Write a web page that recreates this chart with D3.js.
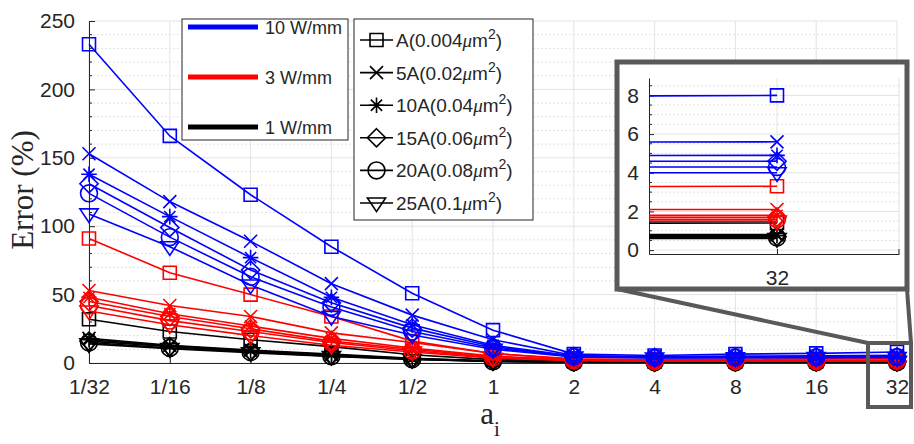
<!DOCTYPE html>
<html>
<head>
<meta charset="utf-8">
<script src="https://cdn.jsdelivr.net/npm/d3@7"></script>
<style>
  body { margin: 0; background: #fff; }
  text { font-family: "Liberation Sans", Arial, sans-serif; fill: #262626; }
  .serif { font-family: "Liberation Serif", "Times New Roman", serif; }
</style>
</head>
<body>
<div id="chart"></div>
<script>
// x categories (a_i)
var xLabels = ["1/32", "1/16", "1/8", "1/4", "1/2", "1", "2", "4", "8", "16", "32"];

// areas, one per marker
var areaMult = ["A", "5A", "10A", "15A", "20A", "25A"];
var areaSize = ["0.004", "0.02", "0.04", "0.06", "0.08", "0.1"];
var markerTypes = ["square", "x", "asterisk", "diamond", "circle", "triangle"];

// error (%) for each area at each a_i, per power density
var err10W = [
  [233, 166, 123, 85, 51, 24, 6.5, 5.5, 6.5, 7.0, 8.0],
  [153, 118, 89, 58, 35, 17, 5.5, 4.5, 5.0, 5.2, 5.6],
  [138, 107, 77, 48, 28, 13, 5.0, 4.2, 4.5, 4.7, 4.9],
  [131, 99, 68, 44, 25.5, 12, 4.8, 4.0, 4.3, 4.4, 4.6],
  [124, 92, 63, 41, 23, 11, 4.6, 3.8, 4.1, 4.2, 4.3],
  [109, 85, 57, 34, 20.5, 10, 4.4, 3.6, 3.8, 3.9, 4.0]
];
var err3W = [
  [91, 66, 50, 34, 16, 7, 3.0, 2.5, 2.8, 3.0, 3.3],
  [53, 42, 34, 22, 15, 7, 2.5, 1.8, 1.9, 2.0, 2.1],
  [48, 36, 27, 18, 11, 5, 2.2, 1.6, 1.7, 1.75, 1.8],
  [45, 34, 25, 16, 10, 4.5, 2.1, 1.5, 1.6, 1.65, 1.7],
  [42, 31, 23, 15, 9, 4, 2.0, 1.4, 1.5, 1.55, 1.6],
  [38, 28, 20, 13, 8, 3.5, 1.9, 1.3, 1.4, 1.45, 1.5]
];
var err1W = [
  [32, 23, 17, 12, 6, 2.5, 1.5, 1.2, 1.3, 1.35, 1.4],
  [18, 13, 9.5, 6.5, 3.5, 1.5, 0.9, 0.7, 0.75, 0.8, 0.8],
  [17, 12.5, 9, 6, 3.3, 1.4, 0.85, 0.65, 0.7, 0.75, 0.75],
  [16, 12, 8.5, 5.5, 3, 1.3, 0.8, 0.6, 0.65, 0.7, 0.7],
  [15, 11, 8, 5, 2.8, 1.2, 0.75, 0.55, 0.6, 0.65, 0.65],
  [14, 10.5, 7.5, 4.8, 2.6, 1.1, 0.7, 0.5, 0.55, 0.6, 0.6]
];

var powerNames = ["10 W/mm", "3 W/mm", "1 W/mm"];
var powerColors = ["#0000ff", "#ff0000", "#000000"];
var yTicks = [0, 50, 100, 150, 200, 250];
var insetTicks = [0, 2, 4, 6, 8];

var powers = [
  { name: powerNames[0], color: powerColors[0], rows: err10W },
  { name: powerNames[1], color: powerColors[1], rows: err3W },
  { name: powerNames[2], color: powerColors[2], rows: err1W }
];

var W = 914, H = 444;
var svg = d3.select("#chart").append("svg")
  .attr("width", W).attr("height", H);

var x = d3.scalePoint().domain(xLabels).range([89, 897]);
var y = d3.scaleLinear().domain([0, 250]).range([363, 21]);

// marker shapes, roughly as MATLAB draws them at the same MarkerSize
function markerPath(type, r) {
  var p = d3.path();
  if (type == "square") {
    p.rect(-r, -r, 2 * r, 2 * r);
  } else if (type == "x") {
    p.moveTo(-r, -r); p.lineTo(r, r); p.moveTo(-r, r); p.lineTo(r, -r);
  } else if (type == "asterisk") {
    var a = r * 1.2, k = a * 0.72;
    p.moveTo(-a, 0); p.lineTo(a, 0); p.moveTo(0, -a); p.lineTo(0, a);
    p.moveTo(-k, -k); p.lineTo(k, k); p.moveTo(-k, k); p.lineTo(k, -k);
  } else if (type == "diamond") {
    var d = r * 1.4;
    p.moveTo(0, -d); p.lineTo(d, 0); p.lineTo(0, d); p.lineTo(-d, 0); p.closePath();
  } else if (type == "circle") {
    var c = r * 1.3;
    p.moveTo(c, 0); p.arc(0, 0, c, 0, 2 * Math.PI);
  } else if (type == "triangle") {
    var t = r * 1.4;
    p.moveTo(-t, -t * 0.55); p.lineTo(t, -t * 0.55); p.lineTo(0, t * 0.95); p.closePath();
  }
  return p.toString();
}

// ---------- main axes ----------
var grid = svg.append("g");
d3.range(0, 251, 10).forEach(function(v) {
  if (v % 50 == 0) return;
  grid.append("line")
    .attr("x1", 89).attr("x2", 897).attr("y1", y(v)).attr("y2", y(v))
    .attr("stroke", "#d9d9d9").attr("stroke-width", 0.8).attr("stroke-dasharray", "2,2");
});
yTicks.forEach(function(v) {
  grid.append("line")
    .attr("x1", 89).attr("x2", 897).attr("y1", y(v)).attr("y2", y(v))
    .attr("stroke", "#e3e3e3").attr("stroke-width", 1);
});
xLabels.forEach(function(l) {
  grid.append("line")
    .attr("x1", x(l)).attr("x2", x(l)).attr("y1", 21).attr("y2", 363)
    .attr("stroke", "#e3e3e3").attr("stroke-width", 1);
});

var yAxis = d3.axisLeft(y).tickValues(yTicks).tickSizeInner(-6).tickSizeOuter(0).tickPadding(14);
svg.append("g").attr("class", "y-axis")
  .attr("transform", "translate(89,0)")
  .call(yAxis);

var xAxis = d3.axisBottom(x).tickSizeInner(-6).tickSizeOuter(0).tickPadding(16);
svg.append("g").attr("class", "x-axis")
  .attr("transform", "translate(0,363)")
  .call(xAxis);

svg.selectAll(".y-axis text, .x-axis text")
  .style("font-size", "21px").attr("fill", "#262626");
svg.selectAll(".y-axis path, .x-axis path, .y-axis line, .x-axis line").attr("stroke", "#262626");

// minor y ticks
d3.range(0, 251, 10).forEach(function(v) {
  if (v % 50 == 0) return;
  svg.append("line").attr("x1", 89).attr("x2", 92).attr("y1", y(v)).attr("y2", y(v))
    .attr("stroke", "#262626");
});

svg.append("text").attr("class", "serif")
  .attr("transform", "translate(33,190) rotate(-90)")
  .attr("text-anchor", "middle")
  .style("font-size", "31px")
  .text("Error (%)");

var xl = svg.append("text").attr("class", "serif")
  .attr("x", 490).attr("y", 424)
  .attr("text-anchor", "middle")
  .style("font-size", "31px");
xl.append("tspan").text("a");
xl.append("tspan").attr("dy", 12).style("font-size", "21px").text("i");

// ---------- data ----------
function drawSeries(g, xs, ys, r, lw) {
  powers.slice().reverse().forEach(function(pw) {
    pw.rows.forEach(function(row, i) {
      var pts = row.map(function(v, j) { return [xs(j), ys(v)]; });
      g.append("path")
        .attr("d", d3.line()(pts))
        .attr("fill", "none").attr("stroke", pw.color).attr("stroke-width", lw);
      g.selectAll(null).data(pts).enter().append("path")
        .attr("transform", function(p) { return "translate(" + p[0] + "," + p[1] + ")"; })
        .attr("d", markerPath(markerTypes[i], r))
        .attr("fill", "none").attr("stroke", pw.color).attr("stroke-width", lw);
    });
  });
}

var xIdx = function(j) { return x(xLabels[j]); };
drawSeries(svg.append("g"), xIdx, y, 6.5, 1.6);

// ---------- legends ----------
var leg1 = svg.append("g");
leg1.append("rect").attr("x", 182).attr("y", 19).attr("width", 166).attr("height", 121)
  .attr("fill", "#fff").attr("stroke", "#262626").attr("stroke-width", 1);
powers.forEach(function(pw, i) {
  var ly = 27 + i * 50;
  leg1.append("line").attr("x1", 188).attr("x2", 258).attr("y1", ly).attr("y2", ly)
    .attr("stroke", pw.color).attr("stroke-width", 5);
  leg1.append("text").attr("x", 265).attr("y", ly + 7)
    .style("font-size", "18px").text(pw.name);
});

var leg2 = svg.append("g");
leg2.append("rect").attr("x", 354).attr("y", 19).attr("width", 179).attr("height", 201)
  .attr("fill", "#fff").attr("stroke", "#262626").attr("stroke-width", 1);
areaMult.forEach(function(a, i) {
  var ly = 40 + i * 32.6;
  leg2.append("line").attr("x1", 360).attr("x2", 393).attr("y1", ly).attr("y2", ly)
    .attr("stroke", "#000").attr("stroke-width", 1.6);
  leg2.append("path").attr("transform", "translate(376.5," + ly + ")")
    .attr("d", markerPath(markerTypes[i], 6.5))
    .attr("fill", "none").attr("stroke", "#000").attr("stroke-width", 1.6);
  var t = leg2.append("text").attr("x", 396).attr("y", ly + 7).style("font-size", "19px");
  t.append("tspan").text(a + "(" + areaSize[i]);
  t.append("tspan").style("font-family", "'Liberation Serif', serif").style("font-style", "italic").text("\u03bc");
  t.append("tspan").text("m");
  t.append("tspan").attr("dy", -8).style("font-size", "14px").text("2");
  t.append("tspan").attr("dy", 8).text(")");
});

// ---------- zoom indicator + inset ----------
var frameColor = "#595959";
svg.append("line").attr("x1", 617).attr("y1", 289).attr("x2", 868).attr("y2", 343)
  .attr("stroke", frameColor).attr("stroke-width", 4);
svg.append("line").attr("x1", 907).attr("y1", 289).attr("x2", 911).attr("y2", 343)
  .attr("stroke", frameColor).attr("stroke-width", 4);
svg.append("rect").attr("x", 868).attr("y", 343).attr("width", 43).attr("height", 64)
  .attr("fill", "none").attr("stroke", frameColor).attr("stroke-width", 4);

svg.append("rect").attr("x", 617).attr("y", 62).attr("width", 290).attr("height", 227)
  .attr("fill", "#fff").attr("stroke", frameColor).attr("stroke-width", 5);

var ix = d3.scaleLinear().domain([10 - 128 * 0.0002, 10 + 122 * 0.0002]).range([649, 899]);
var iy = d3.scaleLinear().domain([-0.2, 8.9]).range([254, 78]);

var inset = svg.append("g");
inset.append("clipPath").attr("id", "inclip").append("rect")
  .attr("x", 649).attr("y", 70).attr("width", 250).attr("height", 184);
d3.range(0, 8.9, 0.5).forEach(function(v) {
  if (v % 2 == 0) return;
  inset.append("line").attr("x1", 649).attr("x2", 899).attr("y1", iy(v)).attr("y2", iy(v))
    .attr("stroke", "#d9d9d9").attr("stroke-width", 0.8).attr("stroke-dasharray", "2,2");
});
insetTicks.forEach(function(v) {
  inset.append("line").attr("x1", 649).attr("x2", 899).attr("y1", iy(v)).attr("y2", iy(v))
    .attr("stroke", "#e3e3e3");
});
[ix(10), 899].forEach(function(xx) {
  inset.append("line").attr("x1", xx).attr("x2", xx).attr("y1", 78).attr("y2", 254)
    .attr("stroke", "#e3e3e3");
});

var iyAxis = d3.axisLeft(iy).tickValues(insetTicks).tickSizeInner(-5).tickSizeOuter(0).tickPadding(10);
inset.append("g").attr("class", "iy-axis").attr("transform", "translate(649,0)").call(iyAxis);
var ixAxis = d3.axisBottom(ix).tickValues([10]).tickFormat(function() { return xLabels[10]; })
  .tickSizeInner(-5).tickSizeOuter(0).tickPadding(16);
inset.append("g").attr("class", "ix-axis").attr("transform", "translate(0,254)").call(ixAxis);
inset.selectAll(".iy-axis text, .ix-axis text").style("font-size", "21px").attr("fill", "#262626");
inset.selectAll(".iy-axis path, .ix-axis path, .iy-axis line, .ix-axis line").attr("stroke", "#262626");
d3.range(0, 8.9, 0.5).forEach(function(v) {
  if (v % 2 == 0) return;
  inset.append("line").attr("x1", 649).attr("x2", 652).attr("y1", iy(v)).attr("y2", iy(v))
    .attr("stroke", "#262626");
});
inset.append("line").attr("x1", 899).attr("x2", 899).attr("y1", 254).attr("y2", 249)
  .attr("stroke", "#262626");

var insetData = inset.append("g").attr("clip-path", "url(#inclip)");
drawSeries(insetData, function(j) { return ix(j); }, iy, 6.5, 1.6);
</script>
</body>
</html>
